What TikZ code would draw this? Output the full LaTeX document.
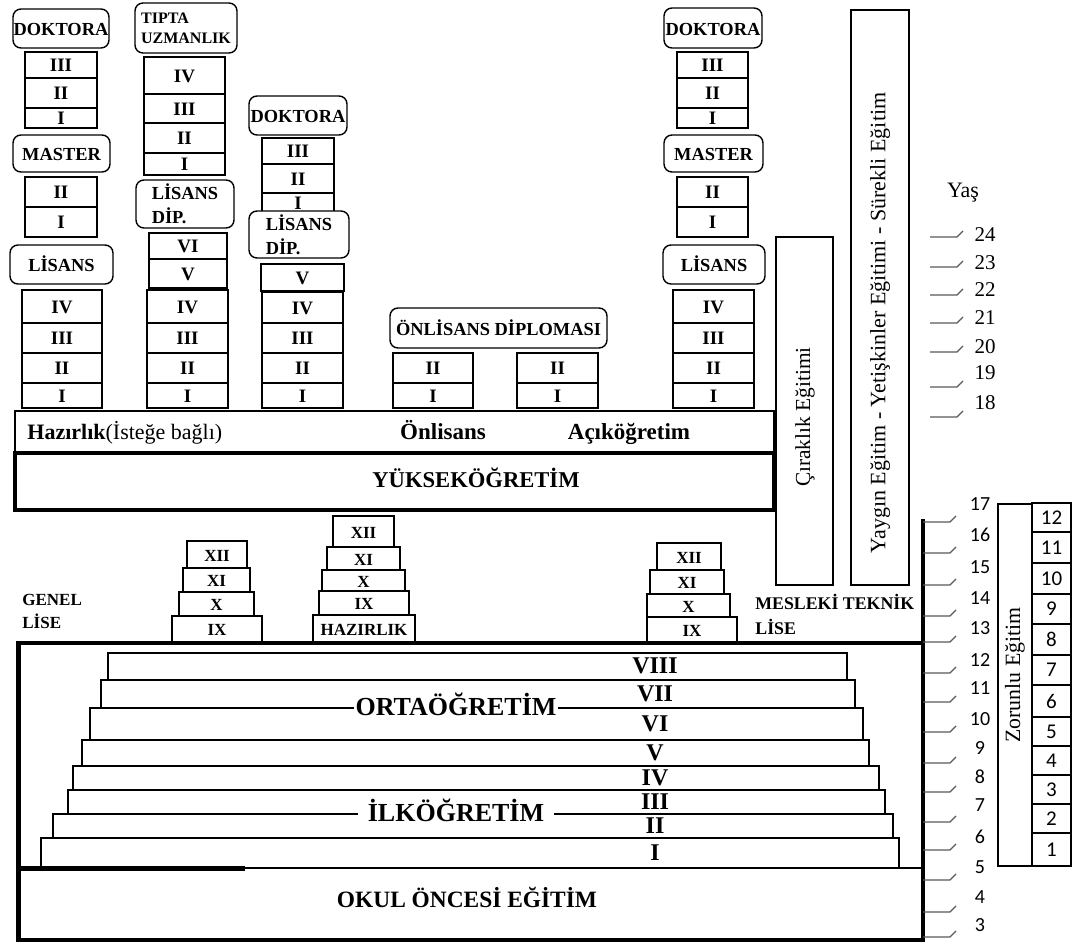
\documentclass[tikz,border=0pt]{standalone}
\usepackage{fontspec}
\setmainfont{Liberation Serif}
\newfontfamily\agefont{Carlito}

\tikzset{
  cell/.style={draw,line width=0.6pt},
  tagbox/.style={draw,fill=white,rounded corners=4pt,line width=0.7pt,inner sep=0pt,
    font=\fontsize{9.2}{12}\selectfont\bfseries},
  tag/.style={tagbox,text height=0.7em,text depth=0pt},
  yr/.style={inner sep=0pt,text height=0.66em,text depth=0pt,
    font=\fontsize{9.5}{10}\selectfont\bfseries},
  grade/.style={inner sep=0pt,text height=0.66em,text depth=0pt,
    font=\fontsize{8.5}{9}\selectfont\bfseries},
  label2/.style={inner sep=0pt,align=left,anchor=west},
  stair/.style={draw,line width=0.6pt},
  head/.style={inner sep=0pt,text height=0.7em,text depth=0.2em,
    font=\fontsize{11.5}{12}\selectfont\bfseries},
  side/.style={rotate=90,inner sep=0pt,font=\fontsize{11}{12}\selectfont},
  age/.style={inner sep=0pt,font=\agefont\fontsize{10}{10}\selectfont},
  tick/.style={line width=0.6pt,draw=black!65},
}

\begin{document}
\begin{tikzpicture}[x=0.5pt,y=-0.5pt]
  \useasboundingbox (0,0) rectangle (1080,942);

  % yuksekogretim sutunlari
  \foreach \xa/\xb/\ya/\yb/\t [count=\i] in {
      25/97/52/78/III,25/97/78/108/II,25/97/108/128/I,
      25/97/177/207/II,25/97/207/237/I,
      22/102/290/323/IV,22/102/323/353/III,22/102/353/383/II,22/102/383/408/I,
      144/225/57/94/IV,144/225/94/123/III,144/225/123/153/II,144/225/153/175/I,
      149/227/233/259/VI,149/227/259/288/V,
      147/228/290/323/IV,147/228/323/353/III,147/228/353/383/II,147/228/383/408/I,
      262/334/138/164/III,262/334/164/193/II,262/334/193/213/I,
      261/344/264/291/V,
      262/343/292/323/IV,262/343/323/353/III,262/343/353/383/II,262/343/383/408/I,
      393/473/353/383/II,393/473/383/408/I,
      517/598/353/383/II,517/598/383/408/I,
      677/748/52/78/III,677/748/78/108/II,677/748/108/128/I,
      677/748/177/207/II,677/748/207/237/I,
      673/754/290/323/IV,673/754/323/353/III,673/754/353/383/II,673/754/383/408/I}
  {
    \draw[cell] (\xa,\ya) rectangle (\xb,\yb);
    \node[yr] (yr\i) at ({(\xa+\xb)/2},{(\ya+\yb)/2}) {\t};
  }

  \node[tag,minimum width=48pt,minimum height=19.5pt] (phdA) at (61,28.5) {DOKTORA};
  \node[tag,minimum width=48.5pt,minimum height=18.5pt] (msA) at (61.5,153.5) {MASTER};
  \node[tag,minimum width=51.5pt,minimum height=19.5pt] (lisA) at (61.5,264.5) {LİSANS};
  \node[tagbox,align=left,minimum width=51pt,minimum height=25pt,
    font=\fontsize{8}{10}\selectfont\bfseries] (tipta) at (186,28) {TIPTA\\UZMANLIK};
  \node[tagbox,align=left,minimum width=49pt,minimum height=24pt] (lisdipB) at (185,204) {LİSANS\\DİP.};
  \node[tag,minimum width=49pt,minimum height=19.5pt] (phdC) at (298,115.5) {DOKTORA};
  \node[tagbox,align=left,minimum width=50pt,minimum height=23.5pt] (lisdipC) at (299,234.5) {LİSANS\\DİP.};
  \node[tag,minimum width=108.5pt,minimum height=20pt] (onlis) at (498.5,328) {ÖNLİSANS DİPLOMASI};
  \node[tag,minimum width=49pt,minimum height=20pt] (phdE) at (713,28) {DOKTORA};
  \node[tag,minimum width=49.5pt,minimum height=18.5pt] (msE) at (713.5,153.5) {MASTER};
  \node[tag,minimum width=51pt,minimum height=19.5pt] (lisE) at (714,264.5) {LİSANS};

  \draw[cell] (15,411) rectangle (774,453);
  \draw[line width=2pt] (15,453) rectangle (774,510);
  \node[head,anchor=west,font=\fontsize{11}{12}\selectfont] (hazir) at (27,434)
    {\textbf{Hazırlık}(İsteğe bağlı)};
  \node[head] (onlisans) at (443,434) {Önlisans};
  \node[head] (acik) at (629,434) {Açıköğretim};
  \node[head,font=\fontsize{11.3}{12}\selectfont\bfseries] (yuksek) at (476,482) {YÜKSEKÖĞRETİM};

  \draw[cell] (776,237) rectangle (833,585);
  \node[side,font=\fontsize{10.7}{12}\selectfont] (cirak) at (805,417) {Çıraklık Eğitimi};
  \draw[cell] (851,10) rectangle (909,585);
  \node[side] (yaygin) at (880,323) {Yaygın Eğitim - Yetişkinler Eğitimi - Sürekli Eğitim};

  % liseler
  \foreach \xa/\xb/\ya/\yb/\t [count=\i] in {
      187/247/541/568/XII,183/250/568/592/XI,179/254/592/616/X,172/262/616/642/IX,
      333/394/516/547/XII,327/400/547/570/XI,322/405/570/591/X,319/409/591/615/IX,
      313/415/615/642/HAZIRLIK,
      657/721/543/570/XII,650/724/570/594/XI,647/730/594/617/X,647/737/617/643/IX}
  {
    \draw[cell] (\xa,\ya) rectangle (\xb,\yb);
    \node[grade] (gr\i) at ({(\xa+\xb)/2},{(\ya+\yb)/2}) {\t};
  }
  \node[label2,font=\fontsize{8.5}{11.5}\selectfont\bfseries]
    (genel) at (22,611) {GENEL\\LİSE};
  \node[label2,font=\fontsize{8.9}{12.5}\selectfont\bfseries]
    (meslek) at (755,614) {MESLEKİ TEKNİK\\LİSE};

  % ilkogretim ve ortaogretim basamaklari
  \foreach \xa/\xb/\ya/\yb/\t [count=\i] in {
      108/847/653/680/VIII,101/855/680/708/VII,90/863/708/740/VI,82/869/740/766/V,
      73/879/766/790/IV,68/885/790/814/III,53/893/814/838/II,41/899/838/868/I}
  {
    \draw[stair] (\xa,\ya) rectangle (\xb,\yb);
    \node[head,text depth=0pt,font=\fontsize{12}{12}\selectfont\bfseries] (st\i) at (655,{(\ya+\yb)/2}) {\t};
  }
  \draw[line width=1.4pt] (73,766) -- (879,766);
  \node[head,fill=white,inner xsep=1pt,text depth=0pt,font=\fontsize{13}{13}\selectfont\bfseries]
    (orta) at (456,708) {ORTAÖĞRETİM};
  \node[head,fill=white,inner xsep=5pt,text depth=0pt,font=\fontsize{13}{13}\selectfont\bfseries]
    (ilk) at (456,814) {İLKÖĞRETİM};

  \draw[line width=1.6pt] (18,643) -- (923,643);
  \draw[line width=1.6pt] (18,940) -- (923,940);
  \draw[line width=2.5pt] (18,641) -- (18,942);
  \draw[line width=1.6pt] (923,519) -- (923,942);
  \draw[line width=1.2pt] (18,868) -- (923,868);
  \draw[line width=2.5pt] (18,868) -- (245,868);
  \node[head,text depth=0pt,font=\fontsize{11.7}{12}\selectfont\bfseries] (okul) at (467,900) {OKUL ÖNCESİ EĞİTİM};

  % yas
  \node[inner sep=0pt,font=\fontsize{11}{12}\selectfont] (yas) at (963,193) {Yaş};
  \foreach \a/\y/\ty in {24/235/237,23/263/267,22/290/295,21/318/323,20/347/352,19/373/387,18/403/417}
  {
    \node[inner sep=0pt,font=\fontsize{10.5}{11}\selectfont] (yas\a) at (985,\y) {\a};
    \draw[tick] (930,\ty) -- (957,\ty) -- (963,{\ty-6});
  }
  \foreach \a/\y/\ty in {17/504/522,16/535/553,15/567/585,14/598/616,13/628/642,
      12/660/673,11/688/702,10/719/732,9/748/763,8/777/792,7/805/822,6/837/850,
      5/867/880,4/897/912,3/925/937}
  {
    \node[age] (yas\a) at (980,\y) {\a};
    \draw[tick] (923,\ty) -- (950,\ty) -- (956,{\ty-6});
  }

  % zorunlu egitim
  \draw[cell] (998,504) rectangle (1032,866);
  \node[side,font=\fontsize{10.9}{12}\selectfont] (zorunlu) at (1015,675) {Zorunlu Eğitim};
  \foreach \ya/\yb/\n in {503/532/12,532/563/11,563/594/10,594/624/9,624/655/8,655/685/7,
      685/717/6,717/746/5,746/775/4,775/804/3,804/833/2,833/866/1}
  {
    \draw[line width=0.9pt] (1032,\ya) rectangle (1071,\yb);
    \node[age,font=\agefont\fontsize{10.5}{11}\selectfont] (zy\n) at (1051.5,{(\ya+\yb)/2}) {\n};
  }
  \draw[line width=1.4pt] (1032,503) -- (1032,866);
\end{tikzpicture}
\end{document}
